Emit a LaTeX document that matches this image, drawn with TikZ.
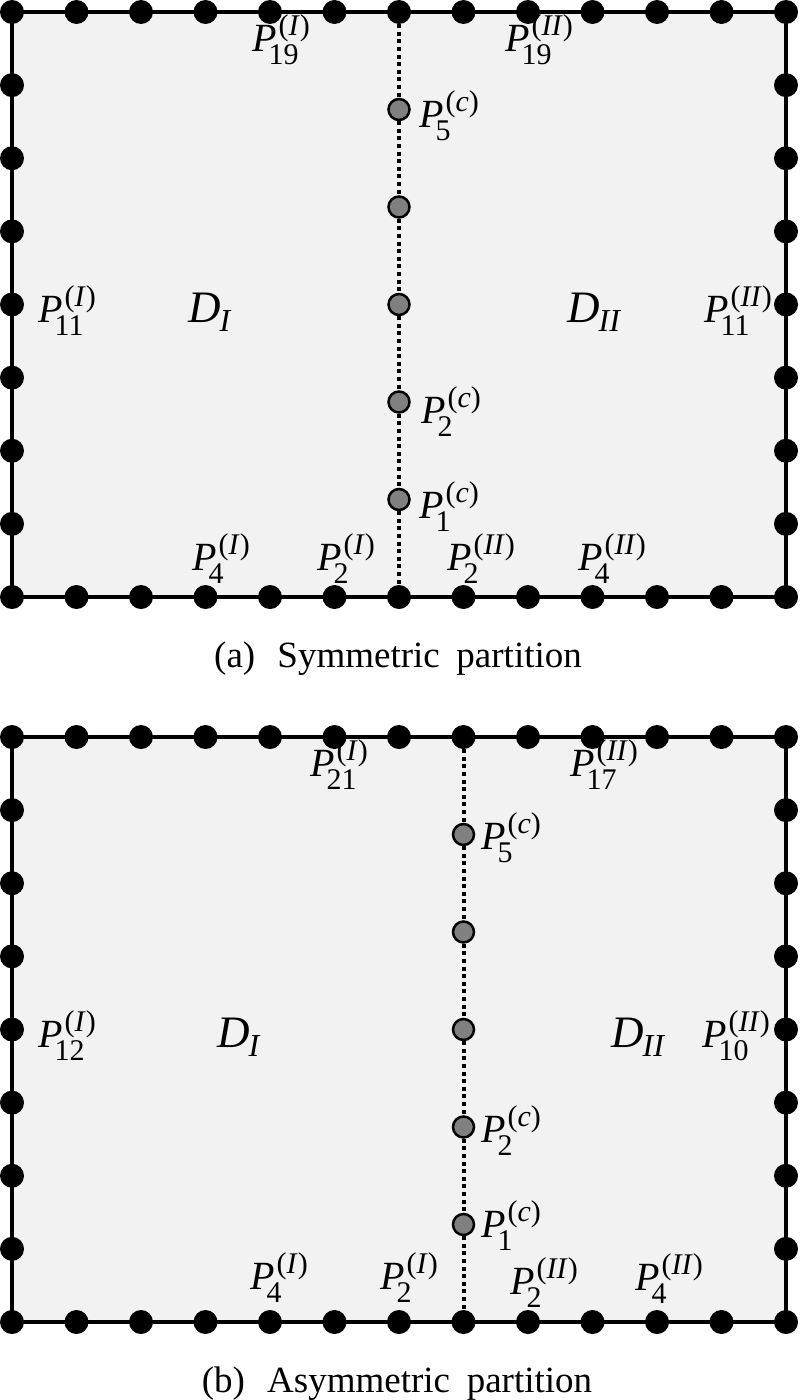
\documentclass[tikz,border=0pt]{standalone}
\usepackage{fontspec}
\setmainfont{Liberation Serif}
\pgfdeclarelayer{background}
\pgfsetlayers{background,main}
\definecolor{panelfill}{HTML}{F2F2F2}
\definecolor{cdotfill}{HTML}{808080}
\newcommand{\scriptpair}[2]{{\fontsize{30}{30}\selectfont
  \setbox0\hbox{\kern-8pt #1}\setbox2\hbox{\kern2pt #2}%
  \ifdim\wd0>\wd2 \dimen0=\wd0 \else \dimen0=\wd2 \fi
  \hbox to\dimen0{\rlap{\lower13pt\box0}\raise16pt\box2\hfil}}}
\newcommand{\Pl}[2]{\textit{P}\scriptpair{#1}{(\textit{#2})}}
\newcommand{\Dl}[1]{{\fontsize{45}{45}\selectfont\textit{D}}\kern-1pt\lower9pt\hbox{\fontsize{32}{32}\selectfont\textit{#1}}}
\tikzset{
  bdot/.style={circle, fill=black, minimum size=24pt, inner sep=0pt},
  gdot/.style={circle, fill=cdotfill, draw=black, line width=2.5pt, minimum size=21pt, inner sep=0pt},
  lbl/.style={anchor=base west, inner sep=0pt, font=\fontsize{40}{48}\selectfont},
  captxt/.style={anchor=base, inner sep=0pt, font=\fontsize{37}{44}\selectfont},
  border/.style={line width=3.5pt, draw=black, fill=panelfill},
  iface/.style={line width=4pt, dash pattern=on 4pt off 3.6pt},
}
\begin{document}
\begin{tikzpicture}[x=1pt,y=-1pt]
\useasboundingbox (0,0) rectangle (800,1400);
% ---------- panel (a) ----------
\foreach \i in {0,...,12} {
  \node[bdot] (ta\i) at ({12+64.5*\i},12) {};
  \node[bdot] (ba\i) at ({12+64.5*\i},597) {};
}
\foreach \j in {1,...,7} {
  \node[bdot] (la\j) at (12,{12+73.125*\j}) {};
  \node[bdot] (ra\j) at (786,{12+73.125*\j}) {};
}
\foreach \k in {1,...,5} {
  \node[gdot] (ca\k) at (399,{597-97.5*\k}) {};
}
\begin{pgfonlayer}{background}
  \draw[border] (ta0.center) rectangle (ba12.center);
\end{pgfonlayer}
\draw[iface] (ta6) -- (ca5);
\draw[iface] (ca5) -- (ca4);
\draw[iface] (ca4) -- (ca3);
\draw[iface] (ca3) -- (ca2);
\draw[iface] (ca2) -- (ca1);
\draw[iface] (ca1) -- (ba6);
\node[lbl] (a19I) at (252,51) {\Pl{19}{I}};
\node[lbl] (a19II) at (505,51) {\Pl{19}{II}};
\node[lbl] (a5c) at (419,127) {\Pl{5}{c}};
\node[lbl] (a2c) at (421,423) {\Pl{2}{c}};
\node[lbl] (a1c) at (419,518) {\Pl{1}{c}};
\node[lbl] (a11I) at (38,322) {\Pl{11}{I}};
\node[lbl] (aDI) at (188,322) {\Dl{I}};
\node[lbl] (aDII) at (567,322) {\Dl{II}};
\node[lbl] (a11II) at (704,322) {\Pl{11}{II}};
\node[lbl] (a4I) at (192,570) {\Pl{4}{I}};
\node[lbl] (a2I) at (317,570) {\Pl{2}{I}};
\node[lbl] (a2II) at (447,570) {\Pl{2}{II}};
\node[lbl] (a4II) at (578,570) {\Pl{4}{II}};
\node[captxt] (capa) at (398,667) {(a)\hspace{0.6em}Symmetric\hspace{0.45em}partition};
% ---------- panel (b) ----------
\foreach \i in {0,...,12} {
  \node[bdot] (tb\i) at ({12+64.5*\i},737) {};
  \node[bdot] (bb\i) at ({12+64.5*\i},1322) {};
}
\foreach \j in {1,...,7} {
  \node[bdot] (lb\j) at (12,{737+73.125*\j}) {};
  \node[bdot] (rb\j) at (786,{737+73.125*\j}) {};
}
\foreach \k in {1,...,5} {
  \node[gdot] (cb\k) at (463.5,{1322-97.5*\k}) {};
}
\begin{pgfonlayer}{background}
  \draw[border] (tb0.center) rectangle (bb12.center);
\end{pgfonlayer}
\draw[iface] (tb7) -- (cb5);
\draw[iface] (cb5) -- (cb4);
\draw[iface] (cb4) -- (cb3);
\draw[iface] (cb3) -- (cb2);
\draw[iface] (cb2) -- (cb1);
\draw[iface] (cb1) -- (bb7);
\node[lbl] (b21I) at (310,776) {\Pl{21}{I}};
\node[lbl] (b17II) at (570,776) {\Pl{17}{II}};
\node[lbl] (b5c) at (481,849) {\Pl{5}{c}};
\node[lbl] (b2c) at (481,1142) {\Pl{2}{c}};
\node[lbl] (b1c) at (481,1237) {\Pl{1}{c}};
\node[lbl] (b12I) at (38,1047) {\Pl{12}{I}};
\node[lbl] (bDI) at (217,1047) {\Dl{I}};
\node[lbl] (bDII) at (611,1047) {\Dl{II}};
\node[lbl] (b10II) at (702,1047) {\Pl{10}{II}};
\node[lbl] (b4I) at (250,1289) {\Pl{4}{I}};
\node[lbl] (b2I) at (380,1289) {\Pl{2}{I}};
\node[lbl] (b2II) at (510,1294) {\Pl{2}{II}};
\node[lbl] (b4II) at (635,1290) {\Pl{4}{II}};
\node[captxt] (capb) at (397,1392) {(b)\hspace{0.6em}Asymmetric\hspace{0.45em}partition};
\end{tikzpicture}
\end{document}
